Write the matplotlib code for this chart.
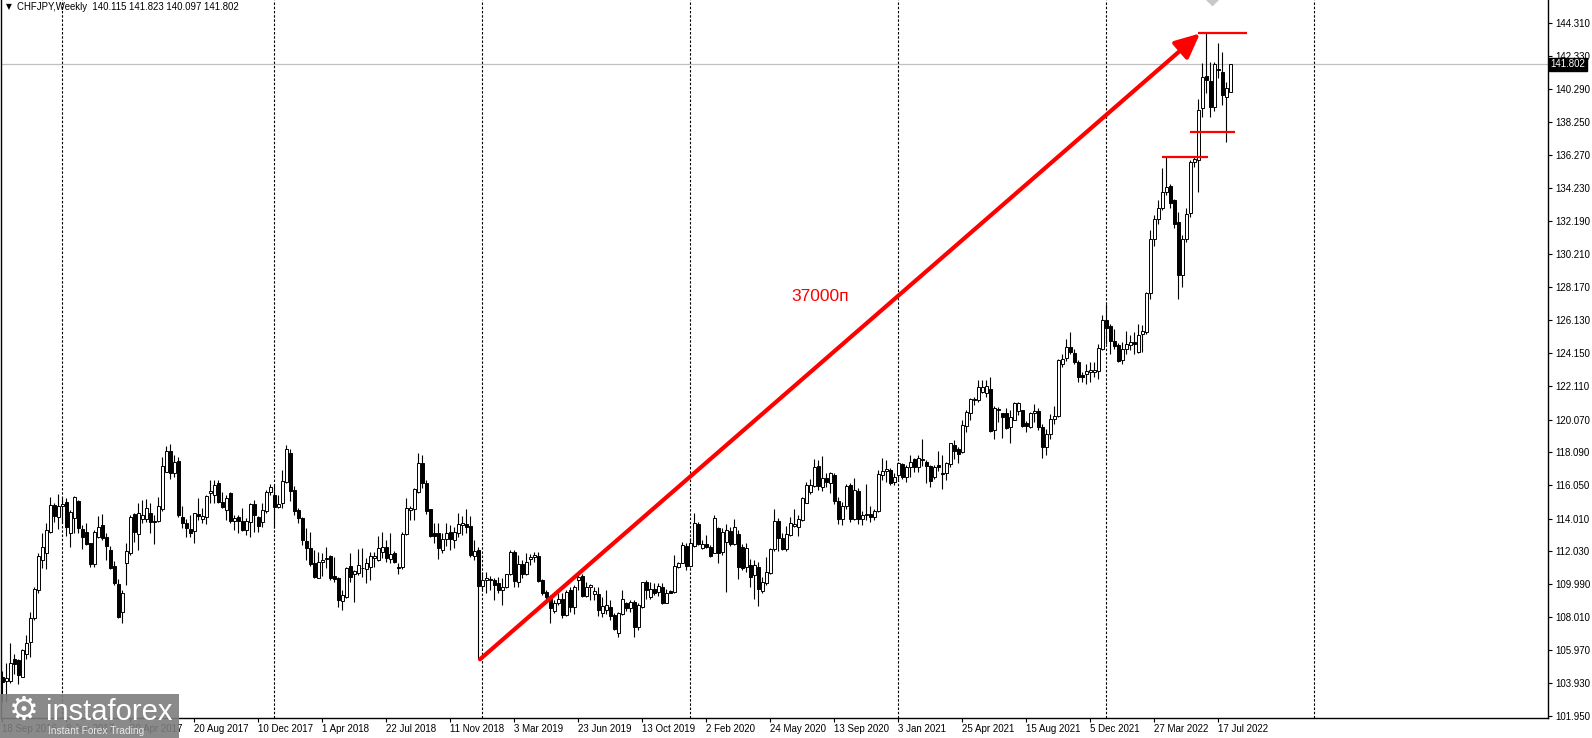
import numpy as np
import matplotlib
matplotlib.use("Agg")
from matplotlib import pyplot as plt
from matplotlib.patches import Rectangle
import matplotlib.transforms as mtransforms

plt.rcParams['font.family'] = ['Liberation Sans', 'DejaVu Sans']

# weekly CHFJPY candles, first bar = 18 Sep 2016
opens = [104.30, 104.08, 104.08, 105.45, 105.35, 104.33, 105.75, 106.47, 107.90, 109.67,
         111.47, 111.88, 113.20, 114.84, 114.08, 114.78, 115.02, 113.10, 114.02, 115.10,
         113.39, 113.16, 112.49, 111.22, 112.86, 113.59, 112.86, 112.08, 111.12, 109.98,
         108.31, 111.30, 111.88, 114.29, 113.06, 113.96, 114.00, 114.37, 113.86, 113.88,
         114.57, 116.88, 118.14, 116.78, 117.51, 114.10, 113.73, 113.37, 113.27, 114.27,
         114.00, 114.12, 115.57, 115.45, 116.21, 115.04, 114.53, 115.59, 113.86, 114.08,
         113.88, 113.31, 113.78, 114.90, 114.08, 113.82, 114.47, 115.65, 115.45, 114.70,
         114.98, 116.27, 118.00, 115.76, 114.53, 114.02, 112.63, 112.22, 111.27, 110.39,
         111.37, 111.53, 111.71, 110.49, 110.35, 108.98, 109.23, 111.10, 110.61, 110.70,
         110.96, 110.90, 111.06, 111.57, 111.47, 111.98, 112.25, 111.51, 111.92, 111.06,
         111.02, 113.06, 114.53, 114.57, 115.65, 117.39, 116.20, 114.57, 113.10, 113.10,
         112.08, 112.74, 113.20, 112.69, 113.14, 113.61, 113.67, 113.55, 111.71, 112.08,
         109.88, 110.25, 110.25, 110.25, 110.04, 109.67, 109.84, 110.61, 111.98, 110.16,
         111.23, 110.65, 111.51, 111.69, 111.71, 110.25, 109.53, 109.19, 108.37, 108.82,
         109.06, 108.10, 109.63, 108.61, 110.25, 110.49, 109.27, 109.80, 109.40, 109.40,
         108.25, 108.41, 108.61, 108.10, 106.98, 108.17, 108.82, 108.51, 108.92, 107.40,
         108.61, 110.10, 109.22, 109.73, 109.53, 109.84, 108.86, 109.55, 109.53, 111.06,
         111.30, 112.33, 111.10, 112.33, 113.67, 112.18, 112.45, 112.29, 111.92, 113.41,
         111.98, 112.59, 113.27, 112.45, 113.06, 112.29, 111.02, 111.16, 110.55, 111.06,
         109.59, 110.04, 110.69, 112.12, 113.88, 112.80, 112.12, 113.00, 113.55, 113.47,
         113.92, 114.98, 115.65, 116.00, 117.22, 115.96, 116.47, 116.20, 116.67, 115.10,
         114.00, 114.80, 116.05, 114.00, 115.70, 114.00, 114.20, 114.30, 114.10, 114.50,
         116.67, 116.94, 116.98, 116.26, 116.67, 117.34, 116.57, 117.14, 117.63, 117.14,
         117.59, 117.48, 117.22, 116.57, 117.28, 116.81, 116.77, 117.34, 118.50, 118.24,
         118.10, 119.67, 120.44, 121.26, 121.26, 121.77, 121.71, 121.91, 119.42, 120.65,
         120.48, 120.44, 119.62, 120.07, 120.60, 120.65, 119.83, 119.62, 120.48, 120.60,
         119.60, 118.40, 119.20, 120.10, 120.30, 123.49, 123.86, 124.51, 124.14, 123.59,
         122.77, 122.84, 122.98, 123.00, 123.04, 124.41, 126.18, 125.78, 124.88, 124.61,
         123.73, 124.41, 124.61, 124.82, 124.20, 125.33, 125.43, 127.78, 131.14, 132.31,
         132.98, 134.00, 134.35, 133.53, 132.16, 128.90, 131.14, 132.71, 135.84, 135.94,
         139.10, 141.08, 140.80, 139.20, 141.49, 141.35, 139.82, 140.115]

highs = [104.70, 105.18, 106.37, 105.75, 105.45, 106.06, 106.88, 108.31, 109.84, 111.88,
         113.10, 113.71, 115.30, 114.94, 115.51, 115.25, 115.24, 114.53, 115.39, 115.14,
         113.61, 113.71, 112.53, 113.31, 114.16, 114.27, 113.10, 112.33, 111.39, 110.29,
         109.63, 112.53, 114.24, 114.37, 114.98, 115.14, 115.22, 114.94, 114.22, 115.31,
         117.75, 118.47, 118.55, 117.90, 117.80, 114.78, 113.96, 114.20, 114.37, 115.24,
         114.63, 115.45, 116.37, 116.37, 116.37, 115.65, 115.45, 115.65, 114.22, 114.22,
         114.63, 114.02, 114.94, 115.14, 114.16, 114.94, 115.76, 116.12, 116.06, 115.45,
         116.98, 118.51, 118.25, 116.00, 114.63, 114.08, 113.41, 113.20, 112.08, 111.98,
         111.92, 112.29, 111.78, 111.67, 110.45, 109.63, 111.06, 111.88, 110.86, 112.12,
         112.18, 111.57, 111.98, 111.98, 112.94, 113.20, 112.69, 113.10, 112.04, 111.27,
         113.20, 115.25, 114.78, 115.86, 118.00, 117.90, 116.40, 114.60, 113.71, 113.71,
         113.10, 113.71, 113.61, 113.51, 114.33, 114.16, 114.57, 114.16, 112.69, 112.29,
         110.76, 110.76, 110.49, 110.35, 110.45, 110.35, 110.65, 112.08, 112.08, 111.78,
         111.47, 111.88, 111.84, 111.98, 111.98, 110.29, 109.63, 109.33, 109.02, 109.43,
         109.47, 109.63, 109.84, 109.94, 110.65, 110.61, 110.14, 110.00, 109.80, 109.80,
         109.23, 109.67, 109.02, 108.21, 108.31, 109.63, 108.92, 109.02, 109.02, 108.82,
         110.14, 110.25, 110.14, 110.04, 110.08, 110.08, 109.73, 109.63, 111.78, 111.37,
         112.59, 112.49, 112.80, 114.33, 113.80, 112.73, 113.00, 112.39, 114.22, 113.51,
         113.41, 113.67, 113.51, 113.96, 113.31, 112.45, 112.49, 111.51, 111.47, 111.37,
         110.45, 111.67, 112.18, 114.57, 114.02, 113.10, 113.55, 114.08, 114.57, 114.22,
         115.35, 116.27, 116.41, 117.63, 117.59, 117.84, 116.78, 116.87, 116.77, 115.30,
         115.00, 116.10, 116.20, 116.50, 115.90, 114.50, 116.10, 114.80, 114.60, 117.00,
         117.69, 117.59, 117.08, 116.77, 117.48, 117.42, 117.28, 117.89, 117.69, 117.89,
         118.85, 117.59, 117.28, 117.28, 118.16, 117.89, 117.48, 118.65, 118.81, 118.40,
         120.07, 120.65, 121.36, 121.46, 122.48, 122.48, 122.48, 122.69, 120.89, 120.85,
         120.48, 120.75, 120.65, 121.16, 121.16, 120.65, 119.99, 120.54, 121.00, 120.80,
         119.80, 119.50, 120.40, 120.90, 123.80, 124.10, 125.02, 125.43, 124.41, 123.69,
         122.98, 123.49, 123.59, 123.59, 124.71, 126.45, 127.16, 125.90, 125.63, 124.76,
         124.82, 125.49, 125.22, 125.43, 125.90, 125.84, 127.88, 131.65, 132.57, 133.49,
         135.43, 136.14, 134.47, 133.59, 132.78, 131.35, 132.98, 135.94, 136.18, 139.65,
         141.86, 143.69, 141.96, 141.96, 143.08, 142.57, 140.73, 141.823]

lows = [102.80, 102.80, 103.95, 104.53, 103.92, 104.29, 105.45, 105.55, 107.80, 109.43,
        110.96, 110.90, 113.10, 113.82, 113.35, 113.71, 112.94, 112.29, 113.10, 113.10,
        112.12, 112.39, 111.06, 111.02, 112.80, 112.69, 111.47, 110.94, 109.94, 107.92,
        107.65, 109.94, 111.78, 112.57, 112.08, 113.71, 113.82, 113.14, 112.43, 113.82,
        114.49, 116.84, 116.41, 116.57, 114.08, 113.41, 112.90, 112.86, 112.53, 113.92,
        113.71, 113.67, 114.94, 114.98, 114.98, 114.63, 113.92, 113.71, 113.31, 113.10,
        113.27, 113.00, 112.90, 113.20, 113.20, 113.51, 114.33, 115.45, 113.41, 114.63,
        114.63, 116.16, 115.10, 114.22, 113.71, 112.39, 111.47, 111.10, 110.35, 110.35,
        110.49, 110.96, 110.25, 110.14, 108.61, 108.41, 109.18, 110.14, 108.92, 110.55,
        110.45, 110.04, 110.25, 111.06, 111.43, 111.57, 111.37, 111.31, 111.27, 110.65,
        110.90, 113.00, 113.92, 113.92, 115.55, 115.90, 114.30, 112.90, 112.49, 111.51,
        111.88, 112.33, 112.08, 112.20, 112.90, 113.00, 113.10, 111.67, 111.47, 105.45,
        109.63, 109.43, 109.63, 109.02, 109.43, 108.71, 109.74, 110.55, 109.84, 109.84,
        110.35, 110.55, 111.16, 111.37, 110.14, 109.33, 109.02, 107.60, 108.25, 108.71,
        107.90, 108.04, 108.31, 108.20, 109.63, 109.23, 109.19, 109.02, 109.02, 108.04,
        108.00, 108.20, 107.80, 107.19, 106.78, 108.10, 108.37, 108.30, 106.75, 107.20,
        108.51, 109.12, 109.12, 109.33, 109.27, 108.78, 108.82, 109.43, 109.43, 110.96,
        111.27, 110.86, 111.06, 112.29, 112.39, 112.12, 112.18, 111.67, 111.88, 111.27,
        111.78, 109.53, 112.33, 112.39, 110.29, 110.86, 110.76, 109.84, 109.12, 108.65,
        109.47, 109.94, 110.61, 112.04, 112.04, 112.08, 112.04, 112.94, 113.47, 112.94,
        113.88, 114.94, 115.51, 115.96, 115.76, 115.71, 115.95, 115.55, 114.90, 113.70,
        113.60, 114.60, 113.80, 113.90, 113.70, 113.60, 113.90, 113.80, 113.90, 114.40,
        116.37, 116.27, 116.06, 116.06, 116.36, 116.46, 116.26, 116.57, 116.87, 116.87,
        117.22, 116.20, 115.95, 116.46, 116.93, 115.85, 116.40, 117.14, 117.63, 117.42,
        118.03, 119.32, 120.07, 120.95, 121.16, 121.67, 121.46, 119.32, 118.85, 119.93,
        118.97, 119.52, 118.61, 120.03, 120.34, 119.62, 119.32, 119.58, 119.90, 119.40,
        117.70, 117.90, 118.90, 119.80, 120.20, 123.29, 123.65, 124.10, 123.49, 122.37,
        122.37, 122.27, 122.37, 122.67, 122.57, 124.31, 124.71, 124.10, 124.41, 123.59,
        123.49, 124.10, 124.31, 124.10, 124.14, 124.20, 125.33, 127.47, 130.67, 132.06,
        132.88, 133.80, 133.04, 131.76, 127.47, 128.18, 130.94, 132.47, 135.53, 134.00,
        138.59, 140.02, 138.55, 138.96, 140.94, 139.31, 137.06, 140.097]

closes = [104.00, 104.28, 105.20, 105.14, 104.43, 106.00, 106.37, 107.90, 109.73, 111.71,
          112.29, 113.31, 114.84, 114.18, 114.78, 114.88, 113.47, 114.41, 115.31, 113.41,
          112.86, 112.45, 111.22, 113.18, 113.47, 112.80, 112.35, 110.98, 110.04, 107.96,
          109.47, 112.04, 114.12, 113.20, 114.33, 114.22, 114.63, 113.80, 113.80, 114.78,
          117.24, 118.14, 116.78, 117.45, 114.20, 113.71, 113.41, 113.10, 114.33, 114.16,
          114.14, 115.39, 115.67, 116.06, 115.04, 114.74, 115.25, 113.88, 114.02, 113.88,
          113.31, 113.88, 114.90, 114.22, 113.57, 114.53, 115.65, 115.92, 114.74, 114.90,
          116.31, 118.27, 115.69, 114.49, 114.02, 112.69, 112.18, 111.22, 110.41, 111.33,
          111.47, 111.59, 110.35, 110.31, 109.02, 109.33, 110.96, 110.45, 110.78, 111.16,
          111.00, 111.31, 111.71, 111.71, 112.18, 112.29, 111.57, 111.84, 111.37, 111.00,
          113.06, 114.63, 114.63, 115.80, 117.39, 116.20, 114.50, 112.94, 112.94, 112.18,
          112.74, 113.14, 112.74, 113.20, 113.67, 113.71, 113.51, 111.78, 112.02, 109.88,
          110.25, 110.35, 110.29, 109.94, 109.63, 109.80, 110.61, 111.96, 110.20, 111.23,
          110.61, 111.37, 111.67, 111.78, 110.20, 109.47, 109.19, 108.57, 108.82, 109.12,
          108.10, 109.53, 108.61, 109.84, 110.41, 109.27, 109.80, 109.96, 109.60, 108.41,
          108.65, 108.71, 108.04, 107.23, 108.25, 109.12, 108.51, 108.92, 107.40, 108.71,
          110.10, 109.63, 109.73, 109.47, 109.88, 108.86, 109.47, 109.47, 111.10, 111.30,
          112.39, 111.10, 112.49, 113.71, 112.45, 112.45, 112.25, 111.71, 114.02, 111.88,
          113.20, 113.31, 112.45, 113.51, 111.02, 110.96, 112.24, 110.41, 111.16, 109.73,
          110.14, 110.76, 112.12, 113.86, 112.80, 112.12, 113.06, 113.71, 113.67, 113.96,
          115.25, 116.06, 116.06, 117.18, 116.00, 116.47, 116.27, 116.77, 115.10, 114.00,
          114.80, 115.99, 114.00, 115.75, 114.00, 114.20, 114.30, 114.10, 114.50, 116.73,
          116.90, 117.02, 116.16, 116.57, 117.38, 116.57, 117.18, 117.48, 117.14, 117.69,
          117.63, 117.22, 116.32, 117.18, 117.14, 116.73, 117.38, 118.61, 118.16, 117.95,
          119.73, 120.54, 121.30, 121.30, 122.03, 122.07, 122.12, 119.38, 120.75, 120.69,
          120.20, 119.58, 120.20, 121.09, 121.09, 119.67, 119.67, 120.48, 120.60, 119.60,
          118.40, 119.20, 120.10, 120.30, 123.69, 123.80, 124.51, 124.20, 123.59, 122.67,
          122.67, 123.04, 123.12, 123.10, 124.47, 126.18, 125.69, 124.88, 124.55, 123.65,
          124.41, 124.67, 124.82, 124.71, 125.22, 125.49, 127.78, 131.14, 132.31, 132.98,
          134.00, 134.31, 133.33, 132.02, 128.90, 131.14, 132.67, 135.84, 135.98, 139.00,
          141.00, 140.84, 139.16, 141.82, 141.45, 139.92, 140.33, 141.802]

date_labels = ["18 Sep 2016", "8 Jan 2017", "30 Apr 2017", "20 Aug 2017", "10 Dec 2017",
               "1 Apr 2018", "22 Jul 2018", "11 Nov 2018", "3 Mar 2019", "23 Jun 2019",
               "13 Oct 2019", "2 Feb 2020", "24 May 2020", "13 Sep 2020", "3 Jan 2021",
               "25 Apr 2021", "15 Aug 2021", "5 Dec 2021", "27 Mar 2022", "17 Jul 2022"]
label_bars = list(range(0, 305, 16))
year_bars = [15, 68, 120, 172, 224, 276, 328]   # first bar of each year

price_ticks = [144.310, 142.330, 140.290, 138.250, 136.270, 134.230, 132.190, 130.210,
               128.170, 126.130, 124.150, 122.110, 120.070, 118.090, 116.050, 114.010,
               112.030, 109.990, 108.010, 105.970, 103.930, 101.950]

last_price = 141.802
arrow_from = (119.5, 105.4)
arrow_to = (299.5, 143.69)
level_top = 143.69
level_mid = 137.68
level_low = 136.16
move_label = "37000п"

W, H = 1592, 738
fig = plt.figure(figsize=(W / 100, H / 100), dpi=100)
fig.patch.set_facecolor('white')
ax = fig.add_axes([1 / W, 20 / H, 1547 / W, 718 / H])
ax.set_xlim(-0.25, 386.5)
ax.set_ylim(101.81, 145.735)

o = np.array(opens)
hi = np.array(highs)
lo = np.array(lows)
c = np.array(closes)
x = np.arange(len(o))
up = c >= o

for xx in year_bars:
    ax.axvline(xx, color='black', lw=0.8, ls=(0, (2.2, 1.6)), zorder=1)
ax.axhline(last_price, color='#c0c0c0', lw=0.9, zorder=1)

ax.vlines(x, np.minimum(lo, np.minimum(o, c)), np.maximum(hi, np.maximum(o, c)),
          color='black', lw=0.8, zorder=2)
ax.bar(x[up], (c - o)[up], bottom=o[up], width=0.75, facecolor='white',
       edgecolor='black', linewidth=0.7, zorder=3)
ax.bar(x[~up], (o - c)[~up], bottom=c[~up], width=0.75, facecolor='black',
       edgecolor='black', linewidth=0.7, zorder=3)

# annotations
ax.annotate("", xy=arrow_to, xytext=arrow_from,
            arrowprops=dict(arrowstyle="-|>,head_length=0.6,head_width=0.28",
                            color='#ff0000', lw=3, mutation_scale=25,
                            shrinkA=0, shrinkB=0), zorder=5)
ax.hlines(level_top, 299, 311.25, color='#ff0000', lw=1.6, zorder=5)
ax.hlines(level_mid, 297, 308.3, color='#ff0000', lw=1.6, zorder=5)
ax.hlines(level_low, 290, 301.5, color='#ff0000', lw=1.6, zorder=5)
ax.text(204.5, 127.6, move_label, color='#ff0000', fontsize=12.5,
        ha='center', va='center', zorder=5)
ax.plot([302.5], [145.9], marker='D', ms=8, color='#c8c8c8', zorder=4)

# axes look
for s in ['left', 'right', 'bottom']:
    ax.spines[s].set_color('black')
    ax.spines[s].set_linewidth(1.0)
ax.spines['top'].set_visible(False)
ax.yaxis.tick_right()
ax.set_yticks(price_ticks)
ax.set_yticklabels(["%.3f" % v for v in price_ticks])
ax.tick_params(axis='y', length=3, width=0.8, pad=2, labelsize=7, colors='black')
ax.set_xticks(label_bars)
ax.set_xticklabels(date_labels, ha='left')
ax.tick_params(axis='x', length=3, width=0.8, pad=1.5, labelsize=7, colors='black')

trans = mtransforms.blended_transform_factory(ax.transAxes, ax.transData)
ax.text(1.0015, last_price, "%.3f" % last_price, transform=trans, color='white',
        fontsize=7, va='center', ha='left', clip_on=False, zorder=10,
        bbox=dict(boxstyle='square,pad=0.15', facecolor='black', edgecolor='black'))

fig.text(6 / W, 1 - 7 / H, "▼", fontsize=5.5, va='center', ha='left',
         family=['DejaVu Sans'])
fig.text(17 / W, 1 - 7 / H, "CHFJPY,Weekly  140.115 141.823 140.097 141.802",
         fontsize=6.9, va='center', ha='left')

# watermark
fig.patches.append(Rectangle((0, 0), 179 / W, 44 / H, transform=fig.transFigure,
                             facecolor='#7d7d7d', edgecolor='none', alpha=0.9,
                             zorder=20))
fig.text(24 / W, 1 - 710 / H, "⚙", fontsize=24, color='white', ha='center',
         va='center', family=['DejaVu Sans'], zorder=21)
fig.text(46 / W, 1 - 712 / H, "instaforex", fontsize=21, color='white', ha='left',
         va='center', zorder=21)
fig.text(48 / W, 1 - 731 / H, "Instant Forex Trading", fontsize=7.3, color='#e8e8e8',
         ha='left', va='center', zorder=21)

fig.savefig("out.png", dpi=100)
